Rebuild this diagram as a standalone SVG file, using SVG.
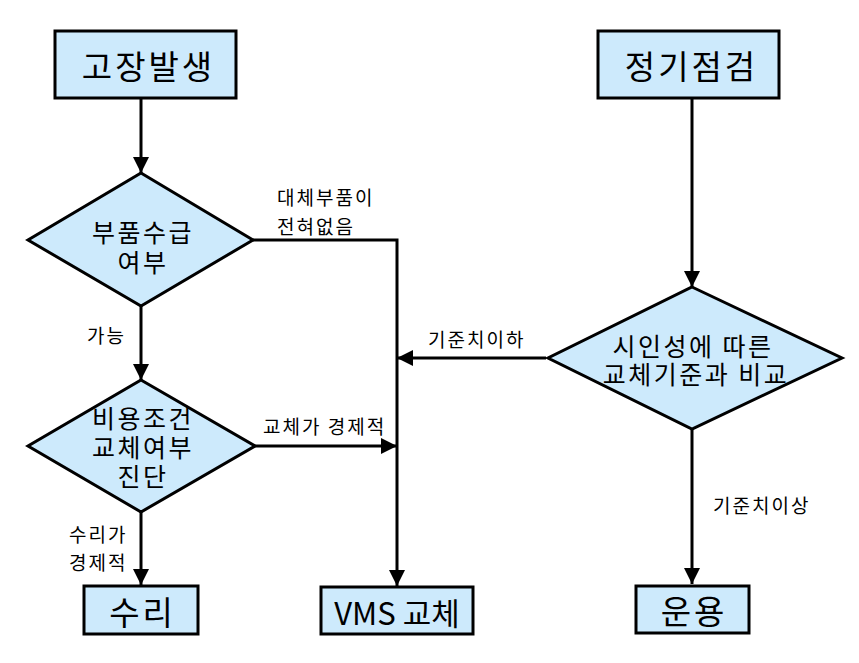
<svg xmlns="http://www.w3.org/2000/svg" width="859" height="663" viewBox="0 0 859 663">
<style>
.box{fill:#cdeafc;stroke:#000;stroke-width:3}
.dia{fill:#cdeafc;stroke:#000;stroke-width:3}
.bt{font-family:"Noto Sans CJK KR","Noto Sans",sans-serif;font-size:33px;font-weight:normal;letter-spacing:3px;text-anchor:middle;dominant-baseline:central;fill:#000}
.dt{font-family:"Noto Sans CJK KR","Noto Sans",sans-serif;font-size:25px;font-weight:normal;letter-spacing:2.5px;text-anchor:middle;dominant-baseline:central;fill:#000}
.lt{font-family:"Noto Sans CJK KR","Noto Sans",sans-serif;font-size:19px;font-weight:normal;letter-spacing:2px;dominant-baseline:central;fill:#000}
.ln{fill:none;stroke:#000;stroke-width:3}
</style>
<defs>
<marker id="ah" markerUnits="userSpaceOnUse" markerWidth="16" markerHeight="16" refX="16" refY="8" orient="auto">
<path d="M0,0 L16,8 L0,16 z" fill="#000"/>
</marker>
</defs>
<g id="connectors">
<line class="ln" x1="141" y1="98" x2="141" y2="173" marker-end="url(#ah)"/>
<line class="ln" x1="141" y1="306" x2="141" y2="380" marker-end="url(#ah)"/>
<line class="ln" x1="141" y1="512" x2="141" y2="585" marker-end="url(#ah)"/>
<polyline class="ln" points="253,240 397,240 397,586" marker-end="url(#ah)"/>
<line class="ln" x1="255" y1="446" x2="397" y2="446" marker-end="url(#ah)"/>
<line class="ln" x1="546" y1="358" x2="397" y2="358" marker-end="url(#ah)"/>
<line class="ln" x1="692" y1="98" x2="692" y2="287" marker-end="url(#ah)"/>
<line class="ln" x1="692" y1="429" x2="692" y2="584" marker-end="url(#ah)"/>
<text class="lt"><tspan x="277" y="196">대체부품이</tspan><tspan x="277" y="225">전혀없음</tspan></text>
<text class="lt" x="87" y="334">가능</text>
<text class="lt" x="263" y="425">교체가 경제적</text>
<text class="lt" x="428" y="338">기준치이하</text>
<text class="lt" x="713" y="504">기준치이상</text>
<text class="lt"><tspan x="69" y="533">수리가</tspan><tspan x="69" y="561">경제적</tspan></text>
</g>
<g id="n1">
<rect class="box" x="55" y="31" width="181" height="67"/>
<text class="bt" x="148.5" y="65">고장발생</text>
</g>
<g id="n2">
<rect class="box" x="598" y="31" width="181" height="67"/>
<text class="bt" x="691.5" y="65">정기점검</text>
</g>
<g id="d1">
<polygon class="dia" points="141,173 253,240 141,306 28,240"/>
<text class="dt"><tspan x="143" y="231">부품수급</tspan><tspan x="143" y="261">여부</tspan></text>
</g>
<g id="d2">
<polygon class="dia" points="141,380 255,446 141,512 28,446"/>
<text class="dt"><tspan x="143" y="417">비용조건</tspan><tspan x="143" y="446">교체여부</tspan><tspan x="143" y="475">진단</tspan></text>
</g>
<g id="d3">
<polygon class="dia" points="692,287 842,358 692,429 548,358"/>
<text class="dt"><tspan x="693" y="345">시인성에 따른</tspan><tspan x="696" y="373">교체기준과 비교</tspan></text>
</g>
<g id="n3">
<rect class="box" x="84" y="586" width="114" height="48"/>
<text class="bt" x="142.5" y="611">수리</text>
</g>
<g id="n4">
<rect class="box" x="321" y="587" width="152" height="47"/>
<text class="bt" x="397" y="611" style="letter-spacing:0;font-size:31px">VMS 교체</text>
</g>
<g id="n5">
<rect class="box" x="636" y="586" width="113" height="47"/>
<text class="bt" x="694" y="610">운용</text>
</g>
</svg>
